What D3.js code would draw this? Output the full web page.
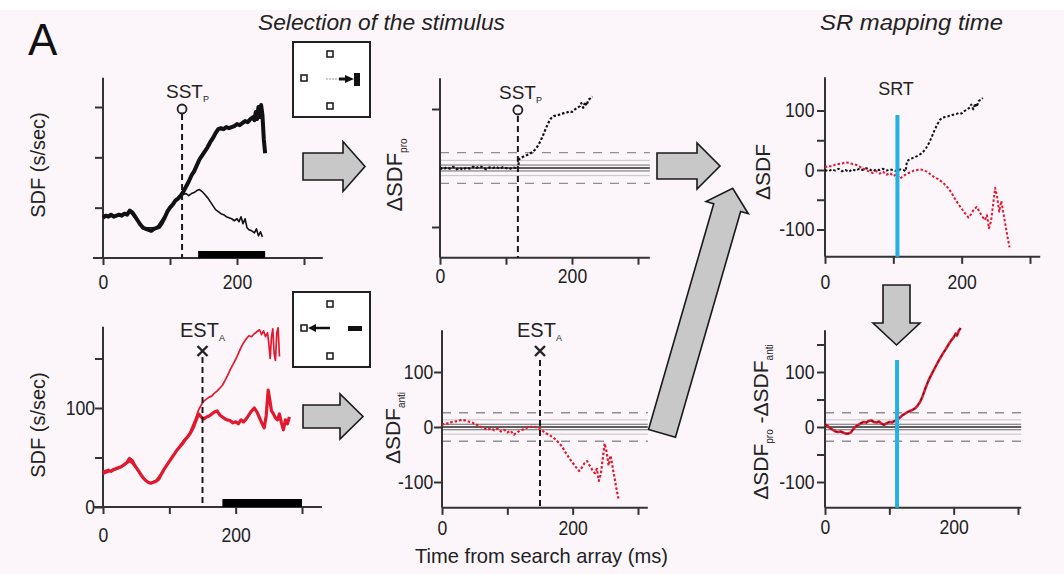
<!DOCTYPE html>
<html><head><meta charset="utf-8">
<script src="https://cdn.jsdelivr.net/npm/d3@7"></script>
<style>
html,body{margin:0;padding:0;background:#fff;}
svg{display:block;font-family:"Liberation Sans", Arial, sans-serif;}
</style></head>
<body><svg id="c" width="1064" height="574"></svg>
<script>
// ---------------- DATA ----------------
const xTickVals = [0, 100, 200, 300];
const xTickLabels = [0, 200];
const sstTime = 118;      // SST_P
const estTime = 150;      // EST_A
const srtTimes = [106, 112]; // SRT (top, bottom right panels)
const refDashed = [-26, 26];
const refThin = [-13, 13];
const refInner = [-5, 5];

// Top-left: SDF, target in RF (thick) and distractor (thin)
const sdfProThick = [[0,40],[4,42],[8,41],[12,43],[16,41],[20,42],[24,43],[28,42],[32,44],[36,43],[40,47],[44,45],[48,41],[52,37],[56,33],[60,30],[64,29],[68,28],[72,27],[76,29],[80,30],[84,31],[88,35],[92,40],[96,46],[100,50],[104,53],[108,57],[112,59],[116,62],[120,66],[124,71],[128,76],[132,82],[136,86],[140,92],[144,98],[148,102],[152,106],[156,110],[160,115],[164,119],[168,124],[172,128],[176,129],[180,128],[184,130],[188,129],[192,130],[196,131],[200,133],[204,132],[208,134],[212,136],[216,135],[220,138],[224,140],[226,137],[228,145],[230,138],[232,150],[234,140],[236,152],[238,142],[240,118],[242,104]];
const sdfProThin = [[0,40],[20,42],[40,46],[60,30],[80,30],[100,50],[116,62],[120,63],[124,64],[128,62],[132,64],[136,65],[140,67],[144,68],[148,66],[152,63],[156,60],[160,56],[164,52],[168,48],[172,46],[176,44],[180,43],[184,41],[188,40],[192,39],[196,37],[200,39],[203,36],[206,41],[209,34],[212,39],[215,30],[218,28],[222,27],[226,25],[229,29],[232,22],[235,26],[238,21]];

// Bottom-left: SDF anti trials (red)
const sdfAntiThick = [[0,35],[4,36],[8,37],[12,36],[16,38],[20,39],[24,40],[28,41],[32,43],[36,45],[40,49],[44,47],[48,42],[52,38],[56,34],[60,30],[64,27],[68,25],[72,24],[76,25],[80,26],[84,28],[88,33],[92,38],[96,42],[100,46],[104,50],[108,54],[112,58],[116,61],[120,64],[124,68],[128,71],[132,75],[136,80],[140,87],[144,94],[148,91],[152,89],[156,91],[160,92],[164,94],[168,96],[172,97],[176,93],[180,91],[184,89],[188,88],[192,87],[196,85],[200,86],[204,84],[208,88],[212,86],[216,89],[220,93],[224,97],[228,100],[232,96],[236,90],[240,84],[243,80],[246,92],[249,118],[251,110],[254,97],[257,94],[260,90],[263,88],[266,94],[269,85],[272,78],[275,88],[278,84],[281,91]];
const sdfAntiThin = [[0,33],[10,36],[20,38],[30,41],[40,46],[44,44],[50,39],[60,29],[70,24],[80,27],[90,36],[100,46],[110,56],[120,66],[130,74],[140,90],[144,98],[148,103],[152,107],[156,109],[160,111],[164,112],[168,115],[172,117],[176,120],[180,123],[184,128],[188,133],[192,139],[196,144],[200,149],[204,155],[208,161],[212,166],[216,170],[220,173],[224,172],[228,175],[232,177],[236,179],[239,174],[242,178],[245,172],[248,176],[250,165],[252,150],[254,172],[256,180],[258,155],[260,148],[262,176],[264,181],[266,152]];

// Delta SDF pro (black dotted) and anti (red dotted)
const dSdfPro = [[0,0],[5,-2],[10,1],[15,-1],[20,2],[25,-2],[30,0],[35,-3],[40,1],[45,-1],[50,2],[55,0],[60,3],[65,1],[70,-2],[75,1],[80,0],[85,2],[90,-1],[95,1],[100,0],[105,-2],[110,1],[115,0],[118,-2],[120,15],[124,18],[128,20],[132,22],[136,24],[140,27],[144,31],[148,37],[152,45],[156,55],[160,66],[164,76],[168,84],[172,88],[176,89],[180,90],[184,92],[188,93],[192,94],[196,96],[200,95],[204,99],[208,102],[212,105],[214,110],[217,102],[220,112],[222,106],[225,116],[228,118],[231,121]];
const dSdfAnti = [[0,4],[5,7],[10,6],[15,9],[20,10],[25,11],[30,13],[35,12],[40,10],[45,9],[50,6],[55,3],[60,0],[65,-3],[70,-5],[75,-2],[80,-6],[85,-3],[90,-8],[95,-5],[100,-10],[105,-7],[110,-14],[115,-10],[120,-6],[125,-4],[130,-1],[135,0],[140,1],[145,-1],[150,-3],[155,-8],[160,-12],[165,-15],[170,-19],[175,-24],[180,-30],[185,-38],[190,-48],[195,-57],[200,-65],[205,-73],[210,-80],[214,-74],[218,-66],[222,-62],[226,-70],[230,-78],[234,-84],[237,-76],[240,-98],[243,-86],[246,-58],[249,-30],[252,-46],[255,-70],[258,-52],[261,-72],[264,-92],[267,-112],[270,-130]];
// Difference pro - anti
const dSdfDiff = [[0,5],[4,2],[8,-2],[12,-5],[16,-8],[20,-9],[24,-8],[28,-10],[32,-12],[36,-12],[40,-10],[44,-4],[48,1],[52,4],[56,7],[60,9],[64,8],[68,11],[72,12],[76,9],[80,8],[84,10],[88,6],[92,4],[96,7],[100,9],[104,8],[108,11],[112,13],[116,17],[120,21],[124,24],[128,27],[132,29],[136,31],[140,34],[144,39],[148,46],[152,57],[156,70],[160,82],[164,92],[168,101],[172,110],[176,119],[180,127],[184,135],[188,142],[192,150],[196,157],[200,163],[203,170],[205,166],[208,175],[211,180]];

// ---------------- DRAW ----------------
const FONT = "Liberation Sans, Arial, sans-serif";
const RED = "#e2192e", BLUE = "#22b2e6", INK = "#222";
const svg = d3.select("#c");
svg.append("rect").attr("x",0).attr("y",10).attr("width",1064).attr("height",564).attr("fill","#fcf6fb");

function panel(cfg){
  const g = svg.append("g");
  const x = d3.scaleLinear().domain([0,300]).range(cfg.xr);
  const y = d3.scaleLinear().domain(cfg.yd).range(cfg.yr);
  const y0 = y(cfg.yExt[0]);
  if (cfg.ref){
    const xa0 = x(0), xa1 = x(cfg.xExt[1]);
    const hl = (v, c, w, dash) => {
      const l = g.append("line").attr("x1",xa0).attr("x2",xa1).attr("y1",y(v)).attr("y2",y(v))
        .attr("stroke",c).attr("stroke-width",w);
      if (dash) l.attr("stroke-dasharray",dash);
    };
    refDashed.forEach(v => hl(v, "#8f8f8f", 1.4, "9,8"));
    refThin.forEach(v => hl(v, "#c2c2c2", 1));
    refInner.forEach(v => hl(v, "#6a6a6a", 1));
    hl(0, "#2a2a2a", 1.4);
  }
  // x axis
  const xa = d3.axisBottom(x).tickValues(xTickVals).tickSize(7).tickPadding(cfg.xpad)
    .tickFormat(d => xTickLabels.includes(d) ? d : "");
  const gx = g.append("g").attr("transform",`translate(0,${y0})`).call(xa);
  // y axis
  const ya = d3.axisLeft(y).tickValues(cfg.yTicks).tickSize(8).tickPadding(cfg.ypad)
    .tickFormat(d => cfg.yLabels.includes(d) ? d : "");
  const gy = g.append("g").attr("transform",`translate(${x(0)},0)`).call(ya);
  [gx,gy].forEach(a=>{
    a.select(".domain").remove();
    a.attr("font-size",20).attr("font-family",FONT);
    a.selectAll(".tick line").attr("stroke","#333").attr("stroke-width",2);
    a.selectAll(".tick text").attr("fill",INK).attr("transform","scale(0.88,1)");
  });
  g.append("line").attr("x1",x(cfg.xExt[0])).attr("x2",x(cfg.xExt[1])).attr("y1",y0).attr("y2",y0)
    .attr("stroke","#333").attr("stroke-width",2);
  g.append("line").attr("x1",x(0)).attr("x2",x(0)).attr("y1",y(cfg.yExt[0])).attr("y2",y(cfg.yExt[1]))
    .attr("stroke","#333").attr("stroke-width",2);
  return {g,x,y,y0};
}

function drawLine(p, data, color, width, dash){
  const l = d3.line().x(d=>p.x(d[0])).y(d=>p.y(d[1]));
  const path = p.g.append("path").datum(data).attr("d",l).attr("fill","none")
    .attr("stroke",color).attr("stroke-width",width).attr("stroke-linejoin","round");
  if (dash) path.attr("stroke-dasharray",dash);
  return path;
}

function vdash(p, t, yTop){
  p.g.append("line").attr("x1",p.x(t)).attr("x2",p.x(t)).attr("y1",yTop).attr("y2",p.y0)
    .attr("stroke","#1a1a1a").attr("stroke-width",2).attr("stroke-dasharray","6,4");
}

function subLabel(x, y, main, sub, size, subSize, anchor){
  const t = svg.append("text").attr("x",x).attr("y",y).attr("font-size",size).attr("fill",INK)
    .attr("font-family",FONT).attr("text-anchor",anchor||"start");
  t.append("tspan").text(main);
  t.append("tspan").attr("font-size",subSize).attr("dy",4).text(sub);
  return t;
}

function rotLabel(cx, cy, parts, size, subSize){
  const t = svg.append("text").attr("transform",`translate(${cx},${cy}) rotate(-90)`)
    .attr("text-anchor","middle").attr("font-size",size).attr("fill",INK).attr("font-family",FONT);
  let shifted = false;
  parts.forEach(([s,isSub])=>{
    const ts = t.append("tspan").text(s);
    if (isSub){ ts.attr("font-size",subSize).attr("dy",5); shifted = true; }
    else if (shifted){ ts.attr("dy",-5); shifted = false; }
  });
  return t;
}

// Panel 1: top-left
const p1 = panel({xr:[103,304], yd:[0,150], yr:[258,107], xExt:[-15,328], yExt:[0,179],
  yTicks:[50,100,150], yLabels:[], xpad:10, ypad:1});
drawLine(p1, sdfProThin, "#111", 1.6);
drawLine(p1, sdfProThick, "#111", 4);
vdash(p1, sstTime, 114);
p1.g.append("rect").attr("x",p1.x(142)).attr("y",p1.y0-7).attr("width",p1.x(242)-p1.x(142)).attr("height",7).attr("fill","#000");
p1.g.append("circle").attr("cx",p1.x(sstTime)).attr("cy",109).attr("r",4.5).attr("fill","none").attr("stroke","#222").attr("stroke-width",1.8);
subLabel(166, 98, "SST", "P", 19, 9);

// Panel 2: bottom-left
const p2 = panel({xr:[103,302], yd:[0,100], yr:[507,408], xExt:[-15,330], yExt:[0,182],
  yTicks:[0,50,100,150], yLabels:[0,100], xpad:14, ypad:1});
drawLine(p2, sdfAntiThin, RED, 1.7);
drawLine(p2, sdfAntiThick, RED, 3.2);
vdash(p2, estTime, 357);
p2.g.append("rect").attr("x",p2.x(180)).attr("y",p2.y0-8).attr("width",p2.x(300)-p2.x(180)).attr("height",8).attr("fill","#000");

// Panel 3: top-middle delta SDF pro
const p3 = panel({xr:[440,638], yd:[0,100], yr:[168,109], xExt:[0,318], yExt:[-152,152],
  yTicks:[-100,100], yLabels:[], xpad:4, ypad:2, ref:true});
drawLine(p3, dSdfPro, "#111", 2.2, "2.5,2");
vdash(p3, sstTime, 116);
p3.g.append("circle").attr("cx",p3.x(sstTime)).attr("cy",110).attr("r",4.5).attr("fill","none").attr("stroke","#222").attr("stroke-width",1.8);
subLabel(499, 99, "SST", "P", 19, 9);

// Panel 4: bottom-middle delta SDF anti
const p4 = panel({xr:[442,638], yd:[0,100], yr:[427,372], xExt:[0,315], yExt:[-147,176],
  yTicks:[-100,0,100], yLabels:[-100,0,100], xpad:6, ypad:2, ref:true});
drawLine(p4, dSdfAnti, RED, 2.2, "2.5,2");
vdash(p4, estTime, 360);

// X markers + EST labels
[[p2,estTime,351,180],[p4,estTime,351,517]].forEach(([p,t,cy,lx])=>{
  const cx = p.x(t), s = 5;
  p.g.append("path").attr("d",`M${cx-s},${cy-s}L${cx+s},${cy+s}M${cx-s},${cy+s}L${cx+s},${cy-s}`)
    .attr("stroke","#222").attr("stroke-width",2.4);
  subLabel(lx, 337, "EST", "A", 20, 9);
});

// Panel 5: top-right delta SDF
const p5 = panel({xr:[825,1030], yd:[0,100], yr:[170,110.5], xExt:[0,315], yExt:[-146,156],
  yTicks:[-100,-50,0,50,100], yLabels:[-100,0,100], xpad:11, ypad:4});
drawLine(p5, dSdfPro, "#111", 2, "2.5,2");
drawLine(p5, dSdfAnti, RED, 2, "2.5,2");
p5.g.append("line").attr("x1",p5.x(srtTimes[0])).attr("x2",p5.x(srtTimes[0])).attr("y1",115).attr("y2",p5.y0)
  .attr("stroke",BLUE).attr("stroke-width",4);
svg.append("text").attr("x",896).attr("y",95).attr("text-anchor","middle").attr("font-size",18)
  .attr("fill",INK).attr("font-family",FONT).text("SRT");

// Panel 6: bottom-right difference
const p6 = panel({xr:[825,1018], yd:[0,100], yr:[427,372], xExt:[0,305], yExt:[-147,176],
  yTicks:[-100,-50,0,50,100,150], yLabels:[-100,0,100], xpad:5, ypad:4, ref:true});
drawLine(p6, dSdfDiff, RED, 2.6);
drawLine(p6, dSdfDiff, "#222", 1, "3,3");
p6.g.append("line").attr("x1",p6.x(srtTimes[1])).attr("x2",p6.x(srtTimes[1])).attr("y1",360).attr("y2",p6.y0)
  .attr("stroke",BLUE).attr("stroke-width",4);

// Axis titles
rotLabel(45, 165, [["SDF (s/sec)",false]], 20, 10);
rotLabel(45, 425, [["SDF (s/sec)",false]], 20, 10);
rotLabel(402, 175, [["ΔSDF",false],["pro",true]], 22, 10);
rotLabel(400, 428, [["ΔSDF",false],["anti",true]], 21, 10);
rotLabel(770, 172, [["ΔSDF",false]], 21, 10);
rotLabel(768, 422, [["ΔSDF",false],["pro",true],[" -ΔSDF",false],["anti",true]], 21, 10);

svg.append("text").attr("x",415).attr("y",563).attr("font-size",21).attr("fill",INK).attr("font-family",FONT)
  .attr("textLength",253).attr("lengthAdjust","spacingAndGlyphs").text("Time from search array (ms)");

// Titles
svg.append("text").attr("x",258).attr("y",30).attr("font-size",22).attr("font-style","italic").attr("fill",INK)
  .attr("font-family",FONT).attr("textLength",247).attr("lengthAdjust","spacingAndGlyphs").text("Selection of the stimulus");
svg.append("text").attr("x",820).attr("y",30).attr("font-size",22).attr("font-style","italic").attr("fill",INK)
  .attr("font-family",FONT).attr("textLength",183).attr("lengthAdjust","spacingAndGlyphs").text("SR mapping time");
svg.append("text").attr("x",28).attr("y",55).attr("font-size",44).attr("fill","#111").attr("font-family",FONT).text("A");

// Big arrows
function arrow(cx, cy, ang, L, bw, hw, hl){
  const pts = [[0,-bw],[L-hl,-bw],[L-hl,-hw],[L,0],[L-hl,hw],[L-hl,bw],[0,bw]];
  svg.append("polygon").attr("points",pts.map(p=>p.join(",")).join(" "))
    .attr("transform",`translate(${cx},${cy}) rotate(${ang})`)
    .attr("fill","#c8c8c8").attr("stroke","#1a1a1a").attr("stroke-width",1.6).attr("stroke-linejoin","miter");
}
arrow(303,166.5,0,62,13.5,25,22);
arrow(303,416.5,0,60,11.5,22.5,23);
arrow(657,166,0,63,13,23,23);
arrow(662,433.4,-73.9,255,14,22,20);
arrow(896.5,285,90,60,13.5,23.5,22);

// Schematic boxes
function box(y0){
  svg.append("rect").attr("x",293).attr("y",y0).attr("width",77).attr("height",75)
    .attr("fill","#fff").attr("stroke","#222").attr("stroke-width",2);
  [[330,y0+12],[304,y0+36],[330,y0+64]].forEach(([cx,cy])=>{
    svg.append("rect").attr("x",cx-3).attr("y",cy-3).attr("width",6).attr("height",6)
      .attr("fill","#fff").attr("stroke","#222").attr("stroke-width",1.6);
  });
}
box(42);
svg.append("line").attr("x1",326).attr("x2",340).attr("y1",79).attr("y2",79).attr("stroke","#999").attr("stroke-width",1).attr("stroke-dasharray","2,1");
svg.append("line").attr("x1",339).attr("x2",348).attr("y1",79).attr("y2",79).attr("stroke","#111").attr("stroke-width",3);
svg.append("path").attr("d","M345,75L354,79L345,83Z").attr("fill","#111");
svg.append("rect").attr("x",354).attr("y",73).attr("width",6).attr("height",13).attr("fill","#111");
box(292);
svg.append("path").attr("d","M308,328L316,324L316,332Z").attr("fill","#111");
svg.append("line").attr("x1",315).attr("x2",330).attr("y1",328).attr("y2",328).attr("stroke","#111").attr("stroke-width",2.5);
svg.append("rect").attr("x",348).attr("y",326).attr("width",14).attr("height",5).attr("fill","#111");
</script></body></html>
